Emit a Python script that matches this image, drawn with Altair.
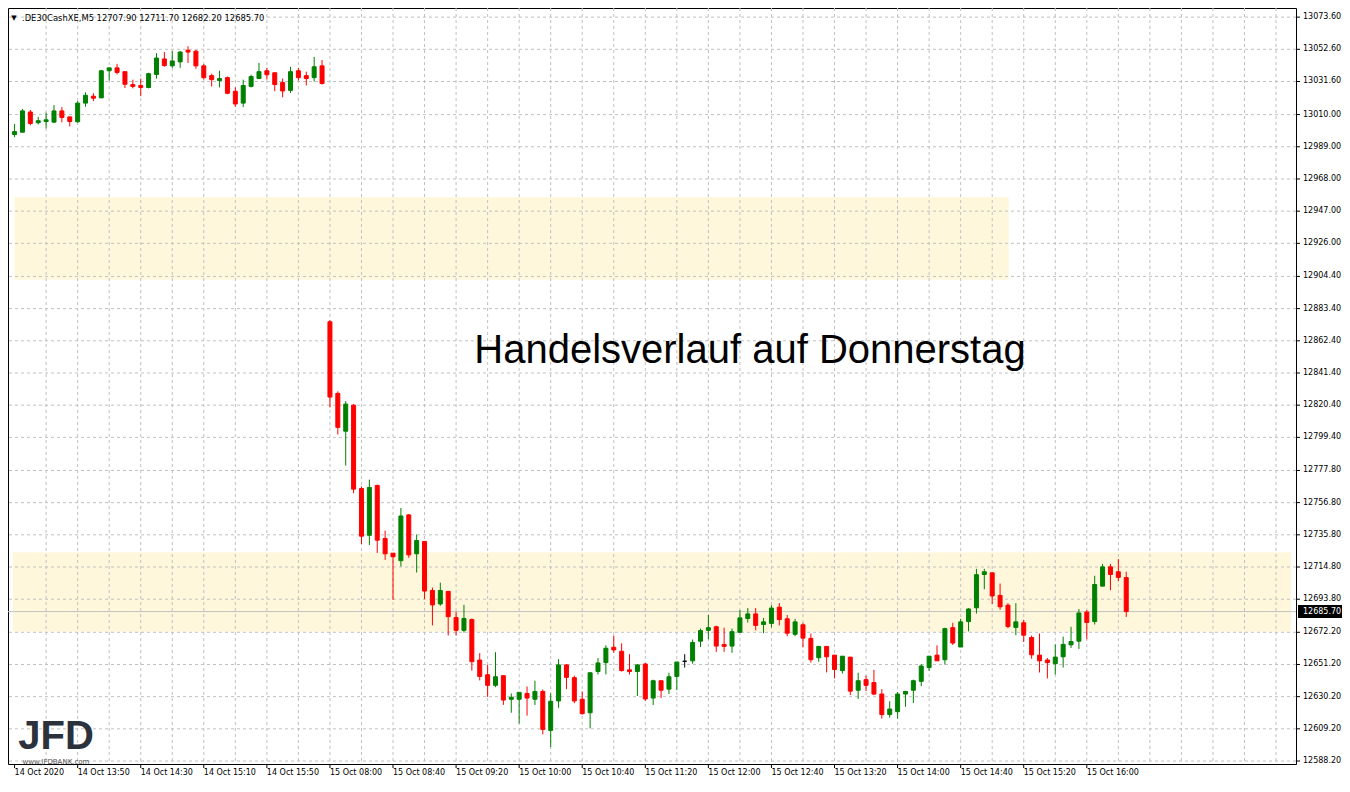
import altair as alt
import pandas as pd

# ---- OHLC, 5-minute bars; index 0 = 14 Oct 13:10, index 40 = 15 Oct 08:00 ----
opens = [
    12997.0, 12998.5, 13011.7, 13004.7, 13005.5, 13005.1, 13012.4, 13008.5, 13005.3, 13017.5,
    13022.0, 13020.9, 13038.6, 13040.5, 13038.0, 13029.6, 13029.0, 13027.7, 13036.2, 13046.3,
    13041.8, 13044.4, 13052.0, 13051.4, 13041.8, 13035.4, 13032.2, 13034.1, 13025.2, 13017.5,
    13028.4, 13033.5, 13038.6, 13037.3, 13030.9, 13025.8, 13038.6, 13035.4, 13034.1, 13041.8,
    12874.8, 12828.1, 12803.4, 12820.4, 12766.0, 12735.5, 12768.0, 12733.4, 12723.8, 12718.9,
    12748.8, 12723.4, 12731.5, 12699.5, 12690.7, 12698.9, 12681.8, 12673.5, 12680.5, 12654.1,
    12644.5, 12637.6, 12643.9, 12628.5, 12628.5, 12632.3, 12628.5, 12633.6, 12608.2, 12627.4,
    12650.9, 12642.6, 12628.5, 12619.7, 12646.6, 12652.4, 12662.4, 12659.8, 12647.7, 12646.6,
    12651.5, 12629.3, 12640.6, 12635.1, 12643.4, 12653.3, 12653.6, 12666.4, 12673.5, 12675.8,
    12664.3, 12663.2, 12672.2, 12681.2, 12684.2, 12677.3, 12678.0, 12688.6, 12681.0, 12670.9,
    12677.1, 12668.2, 12655.6, 12663.0, 12657.3, 12647.2, 12656.0, 12634.4, 12641.3, 12639.4,
    12631.9, 12618.5, 12620.4, 12631.9, 12634.4, 12640.2, 12649.2, 12657.3, 12654.3, 12675.2,
    12662.6, 12679.2, 12688.2, 12709.9, 12711.0, 12696.3, 12689.9, 12675.4, 12678.4, 12668.8,
    12657.3, 12654.1, 12651.7, 12656.2, 12664.0, 12666.4, 12685.4, 12679.2, 12702.3, 12714.9,
    12711.7, 12707.9,
]
highs = [
    13003.9, 13013.7, 13013.0, 13008.5, 13011.3, 13016.2, 13014.9, 13008.5, 13018.8, 13024.5,
    13023.9, 13039.2, 13040.5, 13043.1, 13038.0, 13032.8, 13033.5, 13037.3, 13050.1, 13050.8,
    13051.4, 13051.4, 13054.6, 13052.2, 13042.9, 13036.7, 13038.6, 13034.8, 13027.7, 13032.8,
    13036.0, 13043.7, 13040.5, 13037.3, 13033.5, 13041.2, 13040.5, 13038.0, 13047.6, 13045.6,
    12875.9, 12829.4, 12823.0, 12821.1, 12767.3, 12771.8, 12768.6, 12738.5, 12723.8, 12753.3,
    12749.4, 12736.0, 12731.5, 12701.4, 12704.6, 12698.9, 12685.6, 12690.1, 12681.2, 12658.6,
    12650.9, 12659.2, 12643.9, 12632.3, 12633.0, 12636.8, 12640.6, 12634.9, 12632.3, 12654.7,
    12651.5, 12643.9, 12633.6, 12645.8, 12655.4, 12663.7, 12670.1, 12665.0, 12657.9, 12651.5,
    12652.2, 12641.3, 12640.6, 12645.8, 12652.8, 12657.9, 12667.5, 12674.6, 12683.5, 12676.5,
    12675.2, 12674.6, 12686.7, 12688.0, 12688.0, 12681.6, 12689.9, 12691.2, 12683.5, 12681.0,
    12678.4, 12671.4, 12663.0, 12663.0, 12657.3, 12656.6, 12656.0, 12645.8, 12643.9, 12647.7,
    12635.1, 12627.2, 12633.2, 12633.6, 12641.3, 12651.5, 12656.6, 12663.7, 12675.2, 12678.4,
    12681.0, 12688.0, 12713.6, 12713.6, 12711.0, 12704.0, 12691.2, 12691.2, 12680.3, 12670.1,
    12671.4, 12655.4, 12664.3, 12669.4, 12675.8, 12687.4, 12686.7, 12709.1, 12716.8, 12716.8,
    12720.0, 12711.7,
]
lows = [
    12995.3, 12998.5, 13003.0, 13003.6, 13001.0, 13004.5, 13004.9, 13002.3, 13004.7, 13015.1,
    13018.8, 13020.9, 13032.2, 13036.2, 13027.3, 13027.1, 13022.0, 13027.1, 13033.5, 13041.2,
    13040.5, 13040.5, 13043.7, 13039.9, 13032.8, 13028.4, 13027.7, 13023.3, 13015.1, 13014.9,
    13027.7, 13033.5, 13032.8, 13025.2, 13021.3, 13024.1, 13032.2, 13029.0, 13031.6, 13029.6,
    12819.0, 12801.2, 12781.0, 12762.9, 12729.8, 12729.1, 12724.0, 12719.5, 12693.3, 12715.1,
    12720.8, 12711.2, 12693.8, 12676.7, 12689.5, 12670.1, 12670.1, 12672.0, 12647.2, 12640.8,
    12630.0, 12636.4, 12624.8, 12619.7, 12612.7, 12617.8, 12624.8, 12605.6, 12597.3, 12622.9,
    12635.1, 12625.9, 12618.5, 12609.5, 12644.7, 12644.7, 12658.8, 12646.6, 12644.7, 12630.6,
    12627.4, 12624.8, 12629.3, 12631.9, 12634.4, 12649.2, 12651.7, 12662.6, 12667.7, 12659.4,
    12659.4, 12658.8, 12672.2, 12678.6, 12673.5, 12671.6, 12675.4, 12676.7, 12669.6, 12669.6,
    12662.4, 12652.4, 12653.0, 12646.0, 12642.1, 12645.3, 12631.2, 12628.7, 12633.8, 12631.2,
    12615.9, 12616.5, 12615.9, 12623.6, 12626.1, 12637.0, 12647.0, 12653.6, 12651.1, 12663.9,
    12662.6, 12672.8, 12684.4, 12700.3, 12690.7, 12686.9, 12674.8, 12670.3, 12665.8, 12654.9,
    12646.0, 12642.1, 12644.7, 12649.2, 12662.0, 12661.3, 12667.7, 12677.3, 12702.3, 12699.7,
    12705.5, 12682.2,
]
closes = [
    12998.9, 13012.4, 13004.2, 13006.0, 13006.6, 13012.4, 13008.1, 13005.5, 13017.5, 13022.6,
    13020.7, 13038.6, 13040.5, 13037.5, 13029.8, 13028.4, 13027.7, 13036.7, 13046.9, 13042.0,
    13045.0, 13050.8, 13050.8, 13041.8, 13034.1, 13032.8, 13033.5, 13023.9, 13016.9, 13029.0,
    13034.8, 13038.0, 13036.0, 13029.6, 13025.4, 13038.0, 13034.1, 13033.5, 13041.2, 13030.3,
    12825.7, 12805.9, 12821.1, 12765.6, 12734.9, 12766.7, 12732.3, 12723.4, 12721.5, 12748.1,
    12722.7, 12732.1, 12699.1, 12690.1, 12699.5, 12682.4, 12673.5, 12681.2, 12653.0, 12643.4,
    12637.6, 12643.2, 12628.0, 12629.8, 12633.0, 12629.3, 12633.6, 12608.8, 12627.2, 12650.9,
    12642.8, 12627.4, 12619.1, 12645.8, 12652.2, 12661.8, 12660.7, 12647.2, 12646.6, 12650.9,
    12628.7, 12640.6, 12634.4, 12643.2, 12652.8, 12653.3, 12665.6, 12673.3, 12675.2, 12663.2,
    12663.0, 12672.6, 12681.6, 12684.2, 12676.7, 12679.0, 12688.0, 12680.5, 12671.6, 12679.0,
    12668.4, 12654.3, 12663.0, 12656.2, 12647.9, 12656.6, 12633.8, 12640.6, 12637.6, 12631.9,
    12618.5, 12622.1, 12631.9, 12633.6, 12640.6, 12650.2, 12656.6, 12653.6, 12674.6, 12665.2,
    12679.0, 12687.4, 12709.8, 12711.7, 12695.9, 12688.8, 12676.0, 12679.0, 12670.3, 12657.5,
    12653.6, 12652.4, 12656.0, 12664.3, 12666.2, 12684.8, 12678.6, 12703.4, 12714.9, 12709.9,
    12708.0, 12685.7,
]

x_label_idx = list(range(0, 137, 8))
x_labels = [
    "14 Oct 2020", "14 Oct 13:50", "14 Oct 14:30", "14 Oct 15:10", "14 Oct 15:50",
    "15 Oct 08:00", "15 Oct 08:40", "15 Oct 09:20", "15 Oct 10:00", "15 Oct 10:40",
    "15 Oct 11:20", "15 Oct 12:00", "15 Oct 12:40", "15 Oct 13:20", "15 Oct 14:00",
    "15 Oct 14:40", "15 Oct 15:20", "15 Oct 16:00",
]
x_grid_idx = list(range(4, 161, 4))
y_ticks = [
    13073.60, 13052.60, 13031.60, 13010.00, 12989.00, 12968.00, 12947.00, 12926.00,
    12904.40, 12883.40, 12862.40, 12841.40, 12820.40, 12799.40, 12777.80, 12756.80,
    12735.80, 12714.80, 12693.80, 12672.20, 12651.20, 12630.20, 12609.20, 12588.20,
]
zone_x1 = [0, -0.2]
zone_x2 = [126.1, 161.9]
zone_low = [12902.3, 12672.6]
zone_high = [12956.1, 12724.5]
last_price = [12685.7]
header_text = ".DE30CashXE,M5  12707.90 12711.70 12682.20 12685.70"
title_text = "Handelsverlauf auf Donnerstag"

W, H = 1288, 756
X_DOM = [-0.2, 161.9]
Y_DOM = [12586.26, 13079.55]
FONT = "DejaVu Sans"

xs = alt.Scale(domain=X_DOM, nice=False, zero=False)
ys = alt.Scale(domain=Y_DOM, nice=False, zero=False)

df = pd.DataFrame({"idx": list(range(len(opens))), "open": opens, "high": highs,
                   "low": lows, "close": closes})
df["dir"] = ["up" if c > o else ("down" if c < o else "flat") for o, c in zip(opens, closes)]
cscale = alt.Scale(domain=["up", "down", "flat"], range=["#008000", "#FF0000", "#000000"])


def X(f):
    return alt.X(f, scale=xs, axis=None)


def Y(f):
    return alt.Y(f, scale=ys, axis=None)


zones = alt.Chart(pd.DataFrame({"x1": zone_x1, "x2": zone_x2, "lo": zone_low, "hi": zone_high})).mark_rect(
    color="#FFF7DC").encode(x=X("x1:Q"), x2="x2:Q", y=Y("lo:Q"), y2="hi:Q")

vgrid = alt.Chart(pd.DataFrame({"g": x_grid_idx})).mark_rule(
    color="#C0C0C0", strokeDash=[3, 3], strokeWidth=1).encode(x=X("g:Q"))

hgrid = alt.Chart(pd.DataFrame({"p": y_ticks})).mark_rule(
    color="#C0C0C0", strokeDash=[3, 3], strokeWidth=1).encode(y=Y("p:Q"))

pline = alt.Chart(pd.DataFrame({"p": last_price})).mark_rule(
    color="#C0C0C0", strokeWidth=1).encode(y=Y("p:Q"))

wicks = alt.Chart(df).mark_rule(strokeWidth=1).encode(
    x=X("idx:Q"), y=Y("low:Q"), y2="high:Q",
    color=alt.Color("dir:N", scale=cscale, legend=None))

bodies = alt.Chart(df).mark_bar(size=4, strokeWidth=1).encode(
    x=X("idx:Q"), y=Y("open:Q"), y2="close:Q",
    fill=alt.Fill("dir:N", scale=cscale, legend=None),
    stroke=alt.Stroke("dir:N", scale=cscale, legend=None))

# ---- axes drawn as marks (labels + small tick marks outside the frame) ----
xlab_df = pd.DataFrame({"idx": x_label_idx, "lab": x_labels})
x_ticks = alt.Chart(xlab_df).mark_rule(color="black", strokeWidth=1).encode(
    x=X("idx:Q"), y=alt.value(H), y2=alt.value(H + 4))
x_text = alt.Chart(xlab_df).mark_text(
    font=FONT, fontSize=8, color="black", align="left", baseline="top").encode(
    x=X("idx:Q"), y=alt.value(H + 5), text="lab:N")

ylab_df = pd.DataFrame({"p": y_ticks, "lab": ["%.2f" % v for v in y_ticks]})
y_tickm = alt.Chart(ylab_df).mark_rule(color="black", strokeWidth=1).encode(
    y=Y("p:Q"), x=alt.value(W), x2=alt.value(W + 4))
y_text = alt.Chart(ylab_df).mark_text(
    font=FONT, fontSize=8, color="black", align="left", baseline="middle").encode(
    y=Y("p:Q"), x=alt.value(W + 7), text="lab:N")

title = alt.Chart(pd.DataFrame({"t": [title_text]})).mark_text(
    font="Liberation Sans", fontSize=40, color="black",
    align="center", baseline="alphabetic").encode(
    text="t:N", x=alt.value(742), y=alt.value(355))

hdr = alt.Chart(pd.DataFrame({"t": [header_text]})).mark_text(
    font=FONT, fontSize=8.4, color="black", align="left", baseline="middle").encode(
    text="t:N", x=alt.value(14), y=alt.value(10))
tri = alt.Chart(pd.DataFrame({"t": ["\u25BC"]})).mark_text(
    font=FONT, fontSize=7, color="black", align="center", baseline="middle").encode(
    text="t:N", x=alt.value(6), y=alt.value(10))

logo = alt.Chart(pd.DataFrame({"t": ["JFD"]})).mark_text(
    font="Liberation Sans", fontWeight="bold", fontSize=40,
    color="#2B323C", align="center", baseline="alphabetic").encode(
    text="t:N", x=alt.value(48), y=alt.value(741))
logo_url = alt.Chart(pd.DataFrame({"t": ["www.JFDBANK.com"]})).mark_text(
    font=FONT, fontSize=7, color="#555555", align="center", baseline="middle").encode(
    text="t:N", x=alt.value(48), y=alt.value(754))

pbox = alt.Chart(pd.DataFrame({"p": last_price})).mark_rule(color="black", strokeWidth=13).encode(
    x=alt.value(W + 2), x2=alt.value(W + 46), y=Y("p:Q"))
ptext = alt.Chart(pd.DataFrame({"p": last_price, "t": ["%.2f" % last_price[0]]})).mark_text(
    font=FONT, fontSize=8, color="white", align="left", baseline="middle").encode(
    text="t:N", x=alt.value(W + 7), y=Y("p:Q"))

chart = alt.layer(zones, vgrid, hgrid, pline, wicks, bodies, x_ticks, x_text, y_tickm, y_text,
                  title, hdr, tri, logo, logo_url, pbox, ptext).properties(
    width=W, height=H,
    autosize=alt.AutoSizeParams(type="none"),
    padding={"left": 0, "top": 0, "right": 46, "bottom": 14},
    background="white",
).configure_view(stroke="black", strokeWidth=1)

chart.save("out.html", embed_options={"renderer": "svg", "actions": False})
